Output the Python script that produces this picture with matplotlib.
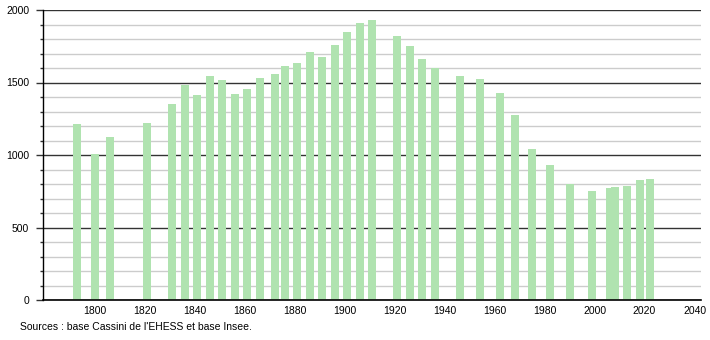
import matplotlib
matplotlib.use("Agg")
import matplotlib.pyplot as plt
from matplotlib.ticker import MultipleLocator

years = [1793, 1800, 1806, 1821, 1831, 1836, 1841, 1846, 1851, 1856,
         1861, 1866, 1872, 1876, 1881, 1886, 1891, 1896, 1901, 1906,
         1911, 1921, 1926, 1931, 1936, 1946, 1954, 1962, 1968, 1975,
         1982, 1990, 1999, 2006, 2008, 2013, 2018, 2022]
population = [1213, 1007, 1126, 1218, 1353, 1482, 1413, 1546, 1516, 1420,
              1456, 1530, 1557, 1612, 1633, 1713, 1674, 1757, 1849, 1908,
              1929, 1819, 1755, 1661, 1597, 1548, 1523, 1427, 1275, 1041,
              932, 798, 752, 772, 778, 787, 828, 835]
x_ticks = [1800, 1820, 1840, 1860, 1880, 1900, 1920, 1940, 1960, 1980, 2000, 2020, 2040]
y_ticks = [0, 500, 1000, 1500, 2000]
source_text = "Sources : base Cassini de l'EHESS et base Insee."

plt.rcParams['font.family'] = ['Liberation Sans', 'DejaVu Sans']

fig = plt.figure(figsize=(7.1, 3.4), dpi=100)
ax = fig.add_axes([43/710, 40/340, 658/710, 290/340])

ax.set_xlim(1779.4, 2042.6)
ax.set_ylim(0, 2000)

ax.yaxis.set_minor_locator(MultipleLocator(100))
ax.set_yticks(y_ticks)
ax.set_xticks(x_ticks)
ax.grid(axis='y', which='minor', color='#cccccc', linewidth=1.0, zorder=0)
ax.grid(axis='y', which='major', color='#333333', linewidth=1.0, zorder=0)
ax.set_axisbelow(True)

ax.bar(years, population, width=3.2, color='#b0e3b0', edgecolor='none', zorder=2)

for s in ['top', 'right']:
    ax.spines[s].set_visible(False)
ax.spines['left'].set_color('black')
ax.spines['bottom'].set_color('black')
ax.spines['left'].set_linewidth(1.0)
ax.spines['bottom'].set_linewidth(1.2)

ax.tick_params(axis='y', which='major', length=5, width=1, pad=5, labelsize=7.5, color='#333333')
ax.tick_params(axis='y', which='minor', length=2.5, width=1, color='#333333')
ax.tick_params(axis='x', which='both', length=0, pad=4, labelsize=7.5)

fig.text(20/710, 1 - 327/340, source_text, fontsize=7.5, va='center', ha='left')

fig.savefig("out.png", dpi=100)
